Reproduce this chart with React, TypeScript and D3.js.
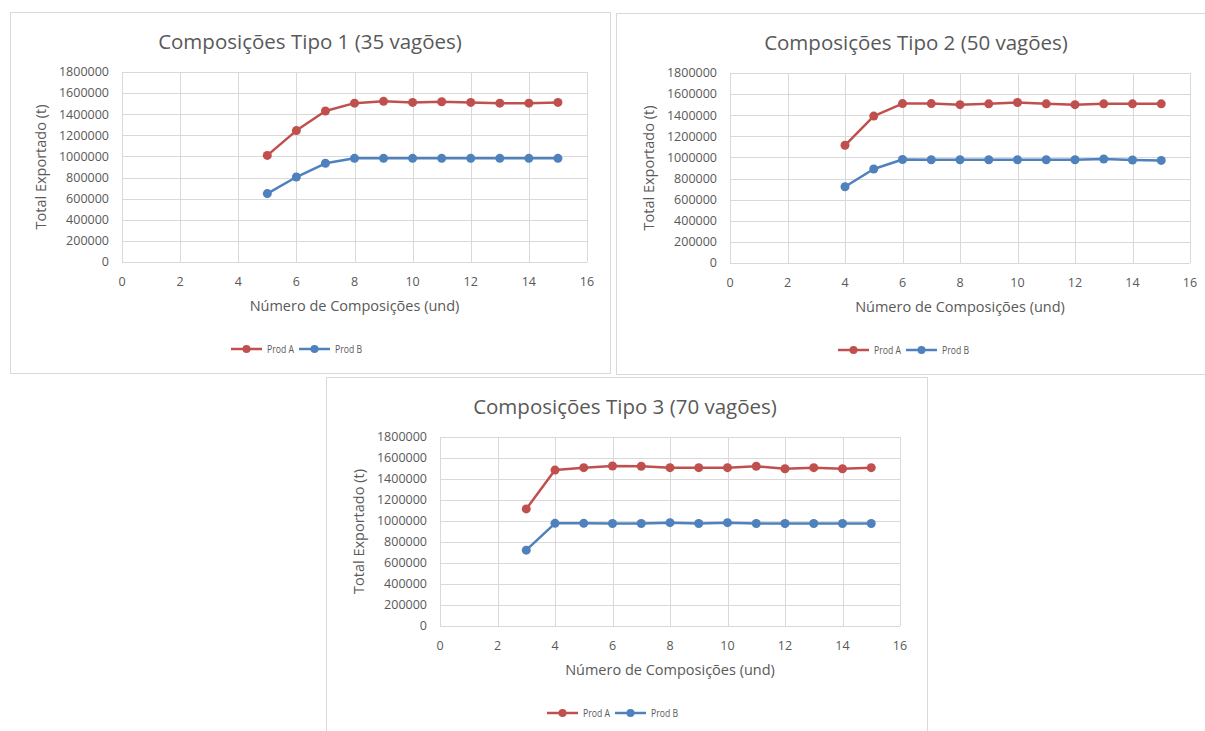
import React from "react";
import * as d3 from "d3";

// Number of train compositions (x) for each chart
const xTipo1 = [5, 6, 7, 8, 9, 10, 11, 12, 13, 14, 15];
const xTipo2 = [4, 5, 6, 7, 8, 9, 10, 11, 12, 13, 14, 15];
const xTipo3 = [3, 4, 5, 6, 7, 8, 9, 10, 11, 12, 13, 14, 15];

// Total exported (t) per product
const prodATipo1 = [1010000, 1245000, 1430000, 1505000, 1522000, 1512000, 1518000, 1512000, 1505000, 1505000, 1512000];
const prodBTipo1 = [648000, 805000, 935000, 982000, 982000, 982000, 982000, 982000, 982000, 982000, 982000];

const prodATipo2 = [1115000, 1392000, 1510000, 1510000, 1500000, 1508000, 1520000, 1508000, 1500000, 1508000, 1508000, 1508000];
const prodBTipo2 = [722000, 890000, 980000, 978000, 978000, 978000, 978000, 978000, 978000, 985000, 976000, 972000];

const prodATipo3 = [1115000, 1485000, 1508000, 1524000, 1521000, 1508000, 1508000, 1508000, 1521000, 1498000, 1508000, 1498000, 1508000];
const prodBTipo3 = [722000, 978000, 978000, 976000, 976000, 984000, 976000, 984000, 976000, 976000, 976000, 976000, 976000];

const titles = [
  "Composições Tipo 1 (35 vagões)",
  "Composições Tipo 2 (50 vagões)",
  "Composições Tipo 3 (70 vagões)",
];
const seriesNames = ["Prod A", "Prod B"];
const xTicks = [0, 2, 4, 6, 8, 10, 12, 14, 16];
const yTicks = [0, 200000, 400000, 600000, 800000, 1000000, 1200000, 1400000, 1600000, 1800000];
const xAxisTitle = "Número de Composições (und)";
const yAxisTitle = "Total Exportado (t)";

const RED = "#c0504d";
const BLUE = "#4f81bd";
const GRID = "#d9d9d9";
const TEXT = "#595959";
const FONT = "'Open Sans', 'Noto Sans', sans-serif";

type Layout = {
  panel: [number, number, number, number]; // x0, y0, x1, y1
  plot: [number, number, number, number];
  titleX: number;
  legendX: number;
};

const layouts: Layout[] = [
  { panel: [10, 12, 610, 373], plot: [122, 72, 587, 262], titleX: 310, legendX: 231 },
  { panel: [616, 13, 1210, 374], plot: [730, 73, 1190, 263], titleX: 916, legendX: 838 },
  { panel: [326, 377, 927, 740], plot: [440, 437, 900, 626], titleX: 625, legendX: 547 },
];

const chartData = [
  { x: xTipo1, a: prodATipo1, b: prodBTipo1 },
  { x: xTipo2, a: prodATipo2, b: prodBTipo2 },
  { x: xTipo3, a: prodATipo3, b: prodBTipo3 },
];

function Chart({ idx }: { idx: number }) {
  const { panel, plot, titleX, legendX } = layouts[idx];
  const { x, a, b } = chartData[idx];
  const [px0, py0, px1, py1] = plot;
  const xs = d3.scaleLinear().domain([0, 16]).range([px0, px1]);
  const ys = d3.scaleLinear().domain([0, 1800000]).range([py1, py0]);
  const line = d3
    .line<[number, number]>()
    .x((d) => xs(d[0]))
    .y((d) => ys(d[1]));
  const series = [
    { name: seriesNames[0], color: RED, pts: x.map((v, i) => [v, a[i]] as [number, number]) },
    { name: seriesNames[1], color: BLUE, pts: x.map((v, i) => [v, b[i]] as [number, number]) },
  ];
  const plotCx = (px0 + px1) / 2;
  const plotCy = (py0 + py1) / 2;
  const legendY = py1 + 87;

  return (
    <g>
      <rect
        x={panel[0] + 0.5}
        y={panel[1] + 0.5}
        width={panel[2] - panel[0]}
        height={panel[3] - panel[1]}
        fill="#ffffff"
        stroke={GRID}
        strokeWidth={1}
      />
      <text
        x={titleX}
        y={panel[1] + 30}
        dy="0.35em"
        textAnchor="middle"
        fontFamily={FONT}
        fontSize={20.5}
        fill={TEXT}
      >
        {titles[idx]}
      </text>
      {/* horizontal gridlines */}
      {yTicks.map((t) => (
        <line
          key={"h" + t}
          x1={px0}
          x2={px1}
          y1={Math.round(ys(t)) + 0.5}
          y2={Math.round(ys(t)) + 0.5}
          stroke={GRID}
          strokeWidth={1}
        />
      ))}
      {/* vertical gridlines */}
      {xTicks.map((t) => (
        <line
          key={"v" + t}
          x1={Math.round(xs(t)) + 0.5}
          x2={Math.round(xs(t)) + 0.5}
          y1={py0}
          y2={py1}
          stroke={GRID}
          strokeWidth={1}
        />
      ))}
      {yTicks.map((t) => (
        <text
          key={"yl" + t}
          x={px0 - 13}
          y={ys(t)}
          dy="0.35em"
          textAnchor="end"
          fontFamily={FONT}
          fontSize={12.5}
          fill={TEXT}
        >
          {t}
        </text>
      ))}
      {xTicks.map((t) => (
        <text
          key={"xl" + t}
          x={xs(t)}
          y={py1 + 20}
          dy="0.35em"
          textAnchor="middle"
          fontFamily={FONT}
          fontSize={12.5}
          fill={TEXT}
        >
          {t}
        </text>
      ))}
      <text
        x={plotCx}
        y={py1 + 44}
        dy="0.35em"
        textAnchor="middle"
        fontFamily={FONT}
        fontSize={14.5}
        fill={TEXT}
      >
        {xAxisTitle}
      </text>
      <text
        transform={`translate(${px0 - 81},${plotCy}) rotate(-90)`}
        dy="0.35em"
        textAnchor="middle"
        fontFamily={FONT}
        fontSize={14.5}
        fill={TEXT}
      >
        {yAxisTitle}
      </text>
      {series.map((s) => (
        <g key={s.name}>
          <path d={line(s.pts) || ""} fill="none" stroke={s.color} strokeWidth={2.5} strokeLinejoin="round" />
          {s.pts.map((p, i) => (
            <circle key={i} cx={xs(p[0])} cy={ys(p[1])} r={4.5} fill={s.color} />
          ))}
        </g>
      ))}
      {/* legend */}
      {series.map((s, i) => {
        const lx = legendX + i * 68;
        return (
          <g key={"lg" + s.name}>
            <line x1={lx} x2={lx + 31} y1={legendY} y2={legendY} stroke={s.color} strokeWidth={2.5} />
            <circle cx={lx + 15.5} cy={legendY} r={4} fill={s.color} />
            <text
              x={lx + 36}
              y={legendY}
              dy="0.35em"
              fontFamily={FONT}
              fontSize={10.5}
              textLength={27}
              lengthAdjust="spacingAndGlyphs"
              fill={TEXT}
            >
              {s.name}
            </text>
          </g>
        );
      })}
    </g>
  );
}

export default function App() {
  return (
    <svg
      width={1205}
      height={731}
      style={{ position: "absolute", left: 0, top: 0, display: "block" }}
    >
      <rect x={0} y={0} width={1205} height={731} fill="#ffffff" />
      <Chart idx={0} />
      <Chart idx={1} />
      <Chart idx={2} />
    </svg>
  );
}
